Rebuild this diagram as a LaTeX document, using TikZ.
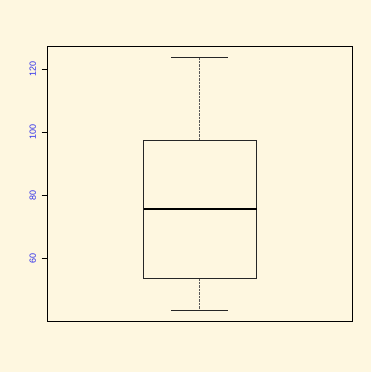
\documentclass[tikz,border=0pt]{standalone}
\usepackage{fontspec}
\setmainfont{Liberation Sans}
\usetikzlibrary{positioning}

\definecolor{paper}{RGB}{254,247,224}
\definecolor{ticklab}{RGB}{45,45,235}

\begin{document}
\begin{tikzpicture}[x=1pt,y=1pt]
  \tikzset{
  	frame/.style={draw=black, line width=1pt},
  	boxline/.style={draw=black!85, line width=1pt},
  	median/.style={draw=black, line width=1.5pt},
  	whisker/.style={draw=black!65, line width=1pt, dash pattern=on 2.5pt off 1pt},
  	ticklabel/.style={text=ticklab, font=\fontsize{9}{10}\selectfont, rotate=90, inner sep=0pt},
  }
  % background, also fixes the page size
  \fill[paper] (0,0) rectangle (371,372);
  \useasboundingbox (0,0) rectangle (371,372);
  \def\Y(#1){113.7+3.15*(#1-60)} % value to height

  \coordinate (pl) at (47.3,50.7);  % plot lower left
  \coordinate (pu) at (352.7,325.3); % plot upper right
  \coordinate (bl) at (143.7,{\Y(53.65)}); % box lower left
  \coordinate (bu) at (256.7,{\Y(97.3)});  % box upper right
  \coordinate (wt) at (199.7,{\Y(123.9)}); % whisker top
  \coordinate (wb) at (199.7,{\Y(43.4)});  % whisker bottom
  \coordinate (bt) at (199.7,{\Y(97.3)});
  \coordinate (bb) at (199.7,{\Y(53.65)});

  % Whiskers first, then the box on top.
  \draw[whisker] (wt) -- (bt);
  \draw[whisker] (bb) -- (wb);
  \draw[boxline] ([xshift=-28.7pt]wt) -- ([xshift=28.7pt]wt);
  \draw[boxline] ([xshift=-28.7pt]wb) -- ([xshift=28.7pt]wb);
  \draw[boxline] (bl) rectangle (bu);
  \draw[median] (143.7,{\Y(75.6)}) -- (256.7,{\Y(75.6)});

  % Frame and the y axis.
  \draw[frame] (pl) rectangle (pu);
  \foreach \v in {60,80,100,120} {
  	\draw[line width=1pt] (41.7,{\Y(\v)}) -- (47.3,{\Y(\v)});
  	\node[ticklabel] (lab\v) at (32.7,{\Y(\v)}) {\v};
  }
\end{tikzpicture}
\end{document}
